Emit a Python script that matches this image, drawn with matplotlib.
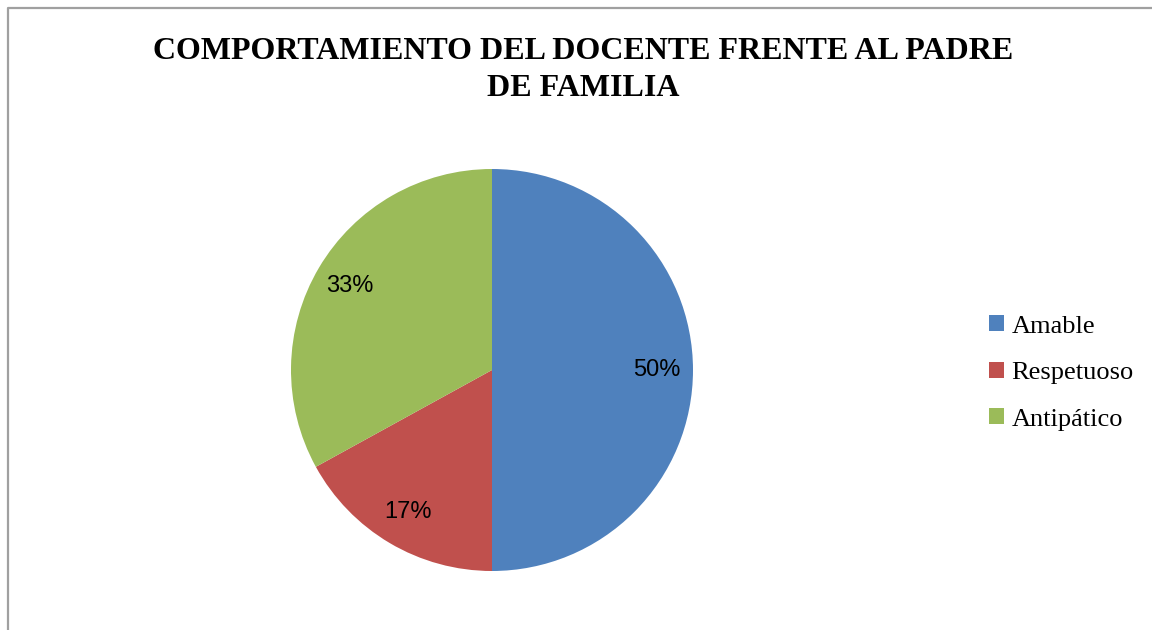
import matplotlib.pyplot as plt
from matplotlib.lines import Line2D

labels = ["Amable", "Respetuoso", "Antipático"]
values = [50, 17, 33]
colors = ["#4F81BD", "#C0504D", "#9BBB59"]

W, H = 1152, 630
fig = plt.figure(figsize=(W / 100, H / 100), dpi=100)

# gray chart frame (only left and top edges visible in the crop)
fig.add_artist(Line2D([7.5 / W, 7.5 / W, 1.0], [0.0, 1 - 8 / H, 1 - 8 / H],
                      transform=fig.transFigure, color="#A0A0A0", lw=1.6))

fig.text(583 / W, 1 - 70 / H, "COMPORTAMIENTO DEL DOCENTE FRENTE AL PADRE\nDE FAMILIA",
         ha="center", va="center", multialignment="center",
         family="Liberation Serif", weight="bold", fontsize=23, linespacing=1.33)

cx, cy, r = 492, 370, 201
ax = fig.add_axes([(cx - r) / W, (H - cy - r) / H, 2 * r / W, 2 * r / H])
wedges, texts, autotexts = ax.pie(values, colors=colors, startangle=90, counterclock=False,
                                  autopct="%1.0f%%", pctdistance=0.82, radius=1,
                                  wedgeprops=dict(linewidth=0))
for t in autotexts:
    t.set_fontsize(17)
    t.set_family("Liberation Sans")
    t.set_color("black")
ax.set_xlim(-1, 1)
ax.set_ylim(-1, 1)
ax.set_aspect("equal")
ax.axis("off")

fig.legend(wedges, labels, loc="center left", bbox_to_anchor=(989 / W, 1 - 373 / H),
           frameon=False, prop=dict(family="Liberation Serif", size=19),
           handlelength=0.55, handleheight=0.55, handletextpad=0.3, labelspacing=0.92,
           borderaxespad=0, borderpad=0)

fig.savefig("out.png", dpi=100)
